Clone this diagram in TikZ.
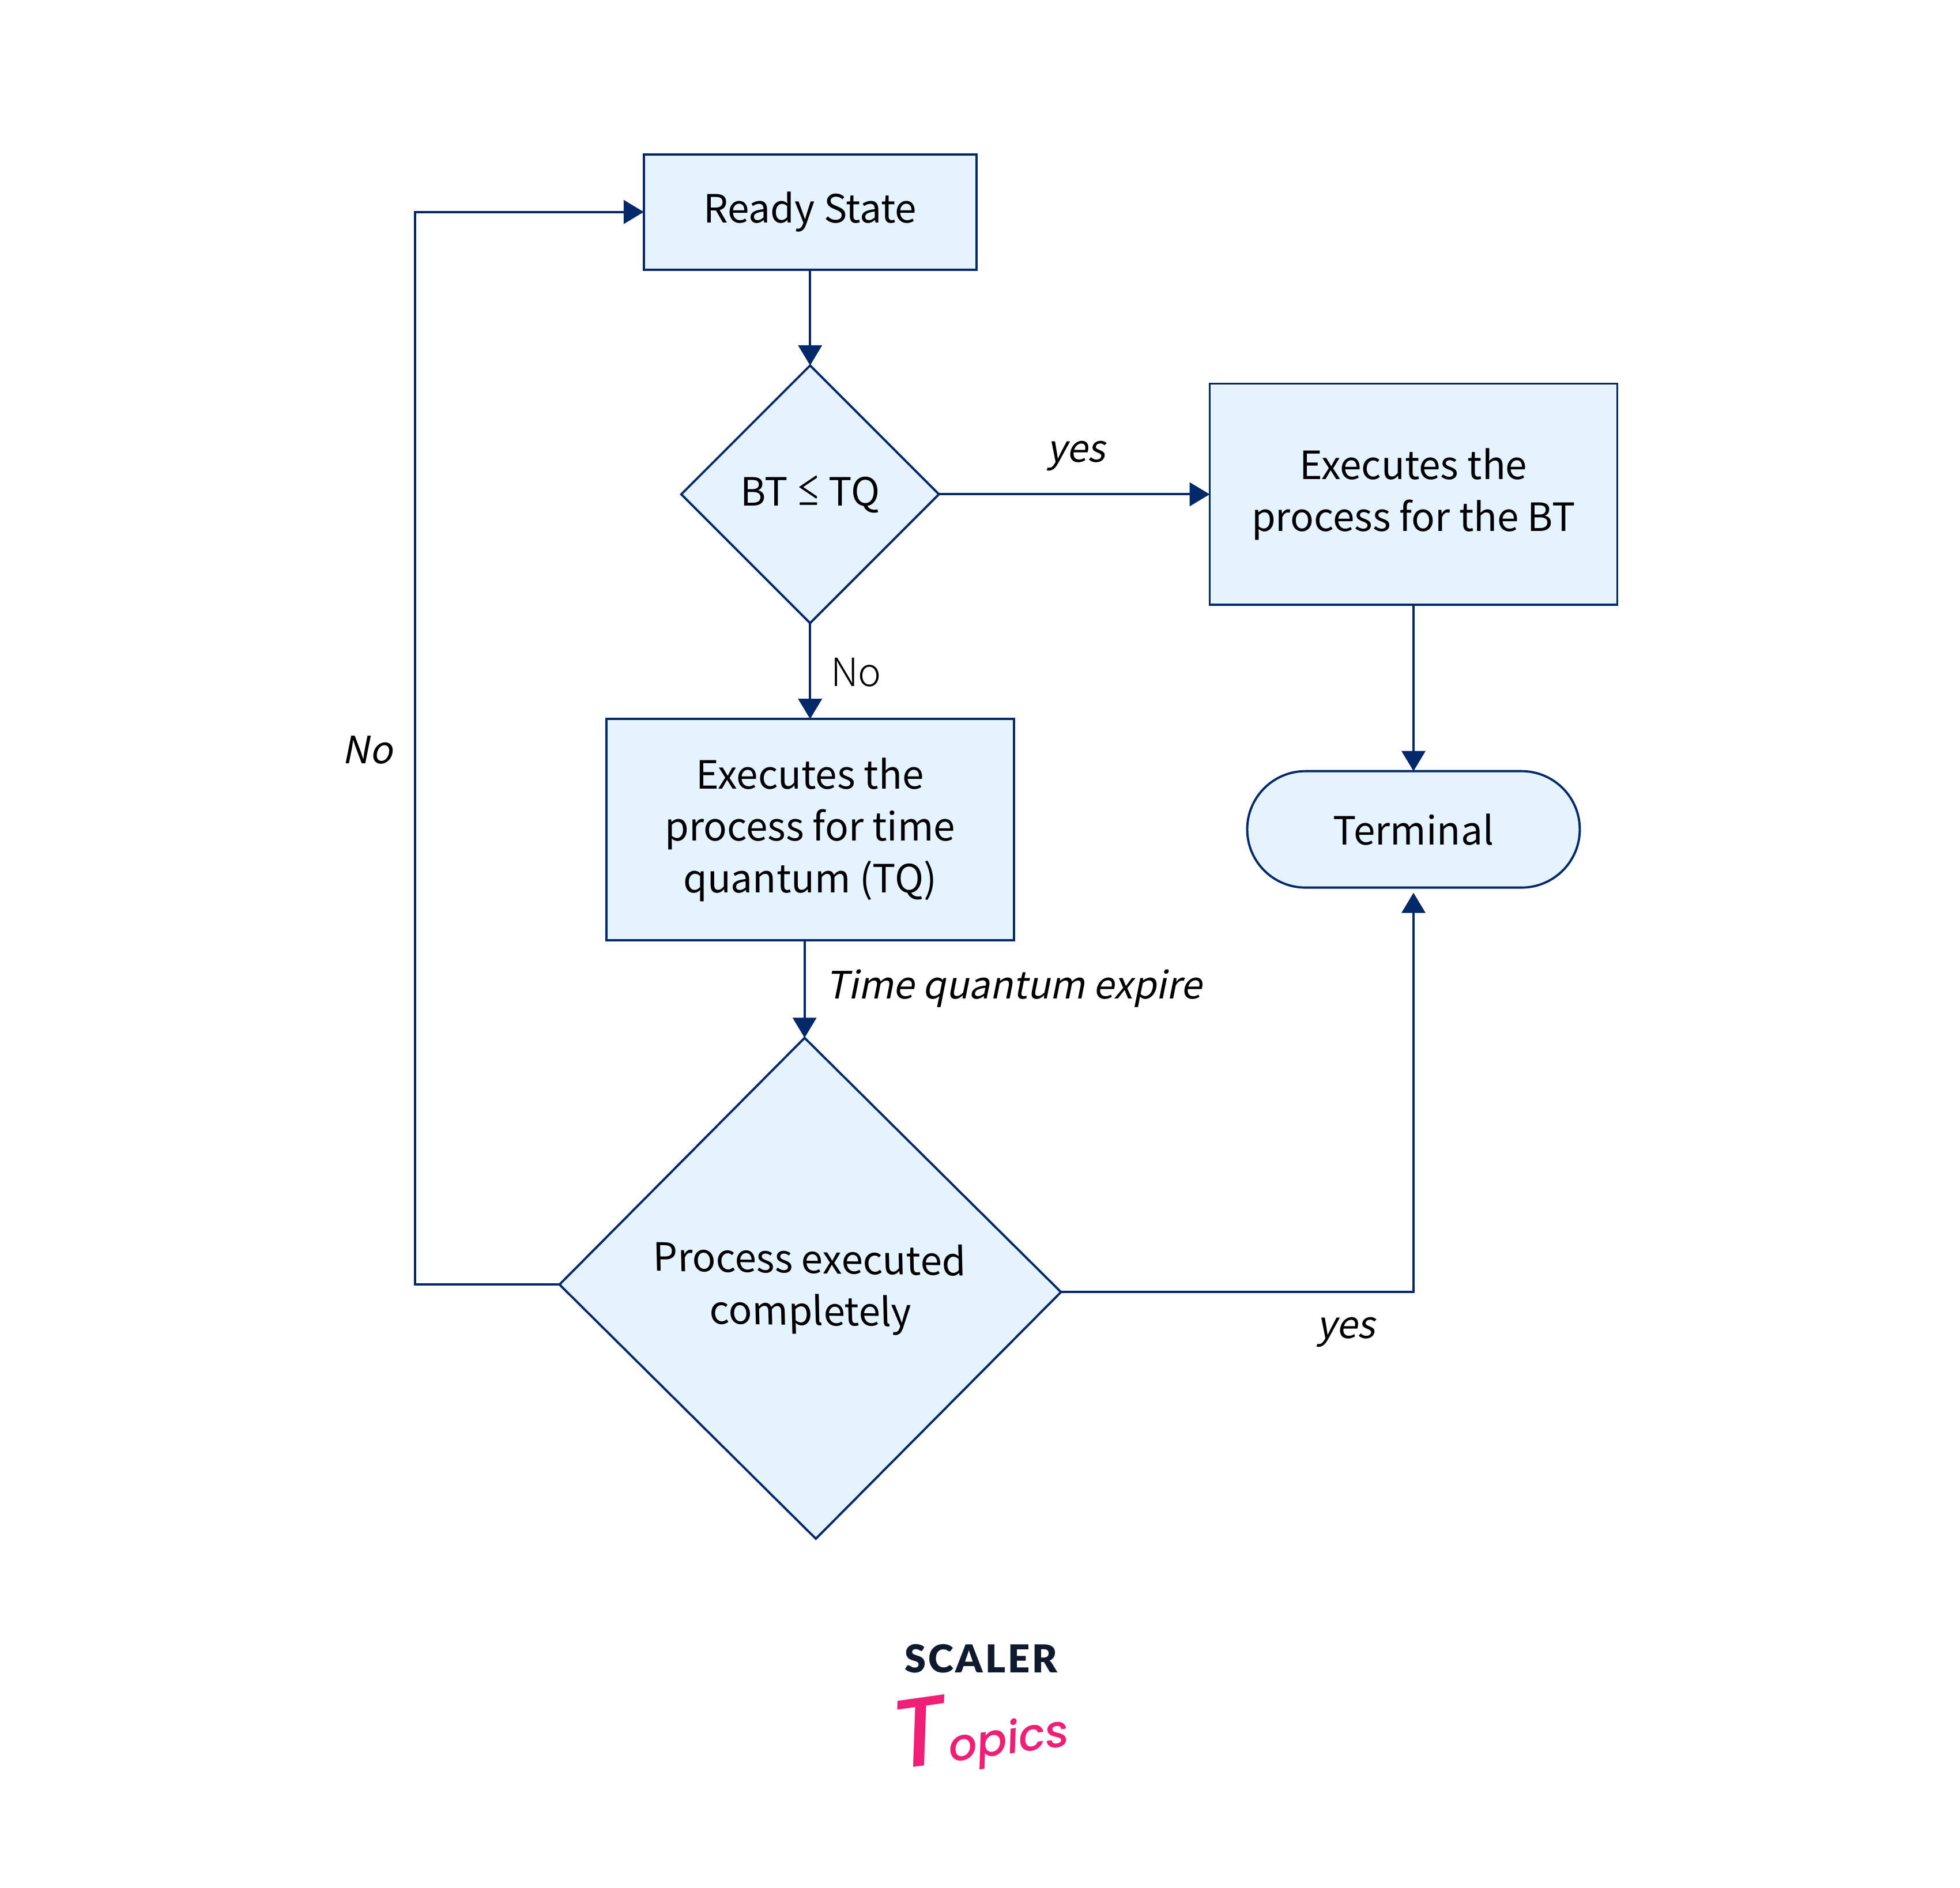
\documentclass[tikz,border=0pt]{standalone}
\usepackage{fontspec}
\usepackage{graphicx}
\setmainfont{Noto Sans CJK JP}[AutoFakeSlant=0.2]
\newfontfamily\thinfont{Noto Sans CJK JP Light}
\newfontfamily\brandfont{Lato Black}[LetterSpace=6]
\newfontfamily\penfont{Poppins}[UprightFont=* Medium]
\usetikzlibrary{shapes,arrows.meta}
\definecolor{navy}{HTML}{04296A}
\definecolor{paleblue}{HTML}{E5F3FF}
\definecolor{brandpink}{HTML}{EE1F74}
\definecolor{brandink}{HTML}{0F1A2E}
\newcommand{\flowfont}{\fontsize{19.2}{25.6}\selectfont}
\newcommand{\edgefont}{\fontsize{18.6}{25.6}\selectfont\itshape}
\tikzset{
flowbox/.style={
	draw=navy, fill=paleblue, line width=1.1pt, inner sep=0pt, outer sep=0pt,
	align=center, font=\flowfont, text=black},
stepbox/.style={flowbox, rectangle, minimum width=7.07cm, minimum height=3.84cm},
readybox/.style={flowbox, rectangle, minimum width=5.77cm, minimum height=2cm},
endbox/.style={flowbox, rounded rectangle, minimum width=5.77cm, minimum height=2.02cm},
choice/.style={flowbox, diamond, aspect=1},
flowline/.style={draw=navy, line width=1.1pt, -{Triangle[width=0.41cm, length=0.35cm]}},
edgetext/.style={font=\edgefont, inner sep=0pt}
}

\begin{document}
\begin{tikzpicture}[x=0.02168cm, y=-0.02168cm]
	\useasboundingbox (0,0) rectangle (1568.3,1510.2);
	\node[readybox] (ready) at (648.2,169.6) {Ready State};
	\node[choice, minimum width=4.47cm, minimum height=4.47cm] (quick) at (648.2,395.5) {BT \scalebox{0.6}[1]{≤} TQ};
	\node[stepbox] (finish) at (1131,395.5) {Executes the\\process for the BT};
	\node[stepbox] (slice) at (648.2,663.8) {Executes the\\process for time\\quantum (TQ)};
	\node[endbox] (terminal) at (1131,663.6) {Terminal};
	\node[choice, minimum width=8.7cm, minimum height=8.69cm, cm={1,-0.015,-0.0225,1,(0,0)}, transform shape] (done) at (648.3,1030.8) {Process executed\\completely};
	\coordinate (loop) at (332,1028);
	\coordinate (turn) at (1131,1034);
	\draw[flowline] (ready) -- (quick);
	\draw[flowline] (quick) -- (finish);
	\draw[flowline] (quick) -- (slice);
	\draw[flowline] (slice.south -| done.north) -- (done.north);
	\draw[flowline] (finish) -- (terminal);
	\draw[flowline] (done.west) -- (done.west -| loop) |- (ready.west);
	\draw[flowline, shorten >=0.09cm] (done.east) -- (done.east -| turn) -- (terminal.south);
	\node[edgetext] (yesa) at (861,365) {yes};
	\node[inner sep=0pt, font=\thinfont\fontsize{19.2}{25.6}\selectfont, text=black] (noa) at (685,538) {No};
	\node[edgetext] (nob) at (294,600) {No};
	\node[edgetext] (expire) at (811,791) {Time quantum expire};
	\node[edgetext] (yesb) at (1077,1066) {yes};
	\node[inner sep=0pt, font=\brandfont\fontsize{19}{19}\selectfont, text=brandink] (scaler) at (785,1327) {SCALER};
	\node[inner sep=0pt, rotate=8, text=brandpink, font=\penfont\itshape] (topics) at (784,1384) {\fontsize{48}{48}\selectfont T\fontsize{22}{22}\selectfont opics};
\end{tikzpicture}
\end{document}
